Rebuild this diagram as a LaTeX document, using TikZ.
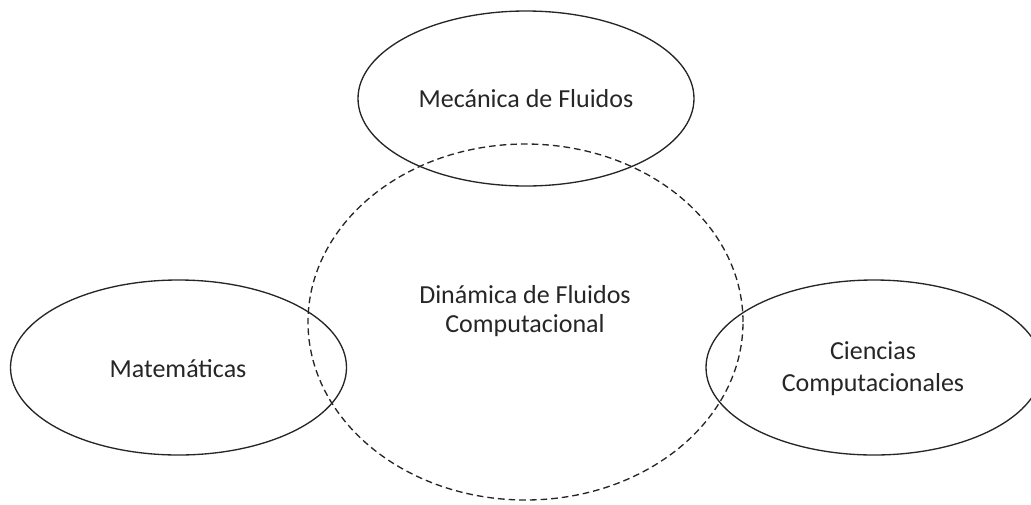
\documentclass[tikz,border=0pt]{standalone}
\usepackage{fontspec}
\setmainfont{Carlito}
\usetikzlibrary{shapes.geometric}
\begin{document}
\begin{tikzpicture}[x=0.75pt,y=-0.75pt,
  oval/.style={draw=black!85, line width=1pt, ellipse, inner sep=0pt,
    minimum width=336*0.75pt, minimum height=175*0.75pt},
  dashoval/.style={draw=black!85, line width=1pt, ellipse, inner sep=0pt,
    dash pattern=on 5pt off 3pt,
    minimum width=435*0.75pt, minimum height=356*0.75pt},
  lbl/.style={font=\fontsize{19.5pt}{21.5pt}\selectfont, text=black!85, align=center, inner sep=0pt}]
\useasboundingbox (0,0) rectangle (1031,504);
\begin{scope}
\clip (0,0) rectangle (1031,504);
\node[dashoval] (cfd) at (525.5,322) {};
\node[oval] (mec) at (526,98.5) {};
\node[oval] (mat) at (178.5,367.5) {};
\node[oval] (cc) at (874,367.5) {};
\end{scope}
\node[lbl] (tmec) at (mec.center) {Mecánica de Fluidos};
\node[lbl, font=\fontsize{19.5pt}{21.4pt}\selectfont] (tcfd) at (525,311) {Dinámica de Fluidos\\Computacional};
\node[lbl] (tmat) at (178,369) {Matemáticas};
\node[lbl, font=\fontsize{19.5pt}{24pt}\selectfont] (tcc) at (873,369) {Ciencias\\Computacionales};
\end{tikzpicture}
\end{document}
